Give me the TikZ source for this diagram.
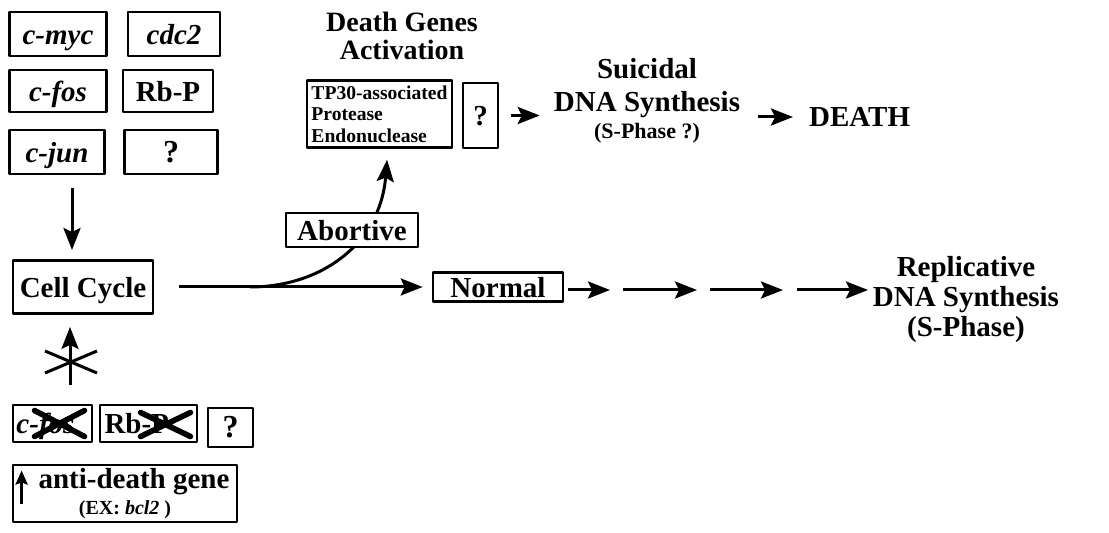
\documentclass[tikz,border=0pt]{standalone}
\usepackage{fontspec}
\setmainfont{Liberation Serif}
\usetikzlibrary{arrows.meta}
\tikzset{
  genebox/.style={draw,line width=1.4pt,fill=white,inner sep=1pt,text height=11.5pt,text depth=1pt,
    font=\bfseries\fontsize{14.5}{16}\selectfont},
  title/.style={align=center,font=\bfseries\fontsize{14.5}{16.5}\selectfont},
  strike/.style={line width=2.8pt,line cap=round},
}
\begin{document}
\begin{tikzpicture}[x=0.5pt,y=-0.5pt,>={Stealth[length=11pt,width=8.5pt,inset=2pt]},line width=1.5pt,line join=round]
  \useasboundingbox (0,0) rectangle (1109,533);
  % inducing genes
  \node[genebox,minimum width=48.5pt,minimum height=22pt] (myc) at (58,34) {\textit{c-myc}};
  \node[genebox,minimum width=46pt,minimum height=22pt] (cdc) at (174,34) {\textit{cdc2}};
  \node[genebox,minimum width=48.5pt,minimum height=21pt] (fos) at (58,91) {\textit{c-fos}};
  \node[genebox,minimum width=45pt,minimum height=21pt] (rbp) at (168,91) {Rb-P};
  \node[genebox,minimum width=47.5pt,minimum height=22pt] (jun) at (57,152) {\textit{c-jun}};
  \node[genebox,minimum width=46.5pt,minimum height=22pt,font=\bfseries\fontsize{16}{18}\selectfont] (qa) at (171,152) {?};
  \coordinate (down) at (72,188);
  \draw[->,shorten >=5pt] (down) -- (down |- 0,260);
  % cell cycle
  \node[genebox,minimum width=70pt,minimum height=26.5pt] (cell) at (83,287) {Cell Cycle};
  \node[genebox,line width=1.3pt,minimum width=65pt,minimum height=14.5pt,inner sep=0pt] (normal) at (498,287) {Normal};
  \draw[->,shorten <=12.5pt,shorten >=4.5pt] (cell.east) -- (normal.west);
  % death branch
  \node[genebox,line width=1.2pt,minimum width=72.5pt,minimum height=33.5pt,align=left,inner sep=1.5pt,
        text height=,text depth=,font=\bfseries\fontsize{9.8}{10.8}\selectfont] (tp) at (379.5,114) {TP30-associated\\Protease\\Endonuclease};
  \node[genebox,line width=1.2pt,minimum width=17.5pt,minimum height=32.5pt] (qb) at (480.5,115.5) {?};
  \coordinate (branch) at (250,287);
  \draw[->,shorten >=5.5pt] (branch) .. controls (320,287) and (380,245) .. ([xshift=4.25pt]tp.south);
  \node[genebox,line width=1.3pt,minimum width=66pt,minimum height=17pt,inner sep=0pt] (abort) at (352,230) {Abortive};
  \node[title,font=\bfseries\fontsize{14}{14}\selectfont] (genes) at (402,36) {Death Genes\\Activation};
  \node[title,anchor=base] (suic) at (647,139) {Suicidal\\DNA Synthesis\\[-3pt]{\fontsize{11}{12}\selectfont (S-Phase ?)}};
  \node[title,anchor=west] (death) at (801,117) {DEATH};
  \draw[->,shorten <=6pt,shorten >=3pt] (qb.east) -- (qb.east -| suic.west);
  \draw[->,shorten <=5pt,shorten >=4pt] (suic.east |- death.west) -- (death.west);
  % normal branch
  \node[title,anchor=base,font=\bfseries\fontsize{14.5}{15}\selectfont] (repl) at (966,337) {Replicative\\DNA Synthesis\\(S-Phase)};
  \coordinate (s0) at (568,290);
  \coordinate (s1) at (610,290);
  \coordinate (s2) at (623,290);
  \coordinate (s3) at (697,290);
  \coordinate (s4) at (710,290);
  \coordinate (s5) at (783,290);
  \coordinate (s6) at (797,290);
  \coordinate (s7) at (868,290);
  \foreach \a/\b in {s0/s1,s2/s3,s4/s5,s6/s7}
    \draw[->] (\a) -- (\b);
  % blocking
  \coordinate (up) at (70,385);
  \draw[->,shorten >=6pt] (up) -- (up |- cell.south);
  \draw (45,351) -- (97,373) (45,373) -- (97,351);
  \node[genebox,minimum width=39.5pt,minimum height=18.5pt,text width=36pt] (cfos) at (52.5,423.5) {\textit{c-fos}};
  \draw[strike] ([shift={(-9pt,-6.5pt)}]cfos.center) -- ([shift={(16pt,6.5pt)}]cfos.center)
                ([shift={(-9pt,6.5pt)}]cfos.center) -- ([shift={(16pt,-6.5pt)}]cfos.center);
  \node[genebox,minimum width=48.5pt,minimum height=18.5pt,text width=44pt] (crb) at (148.5,423.5) {Rb-P};
  \draw[strike] ([shift={(-4pt,-6.5pt)}]crb.center) -- ([shift={(21pt,5.5pt)}]crb.center)
                ([shift={(-4pt,5.5pt)}]crb.center) -- ([shift={(21pt,-6.5pt)}]crb.center);
  \node[genebox,minimum width=22.5pt,minimum height=19.5pt,font=\bfseries\fontsize{16}{18}\selectfont] (qc) at (230.5,427.5) {?};
  \node[genebox,minimum width=112pt,minimum height=28.5pt,align=center,inner sep=0pt,text height=,text depth=] (anti) at (125,493.5)
    {\hspace{9pt}anti-death gene\\[-3pt]{\fontsize{10}{11}\selectfont (EX: \textit{bcl2} )\hspace{18pt}}};
  \draw[->,line width=1.8pt,>={Stealth[length=7pt,width=6pt,inset=1pt]}] ([xshift=5pt,yshift=-5.5pt]anti.west) -- ([xshift=5pt,yshift=11.5pt]anti.west);
\end{tikzpicture}
\end{document}
